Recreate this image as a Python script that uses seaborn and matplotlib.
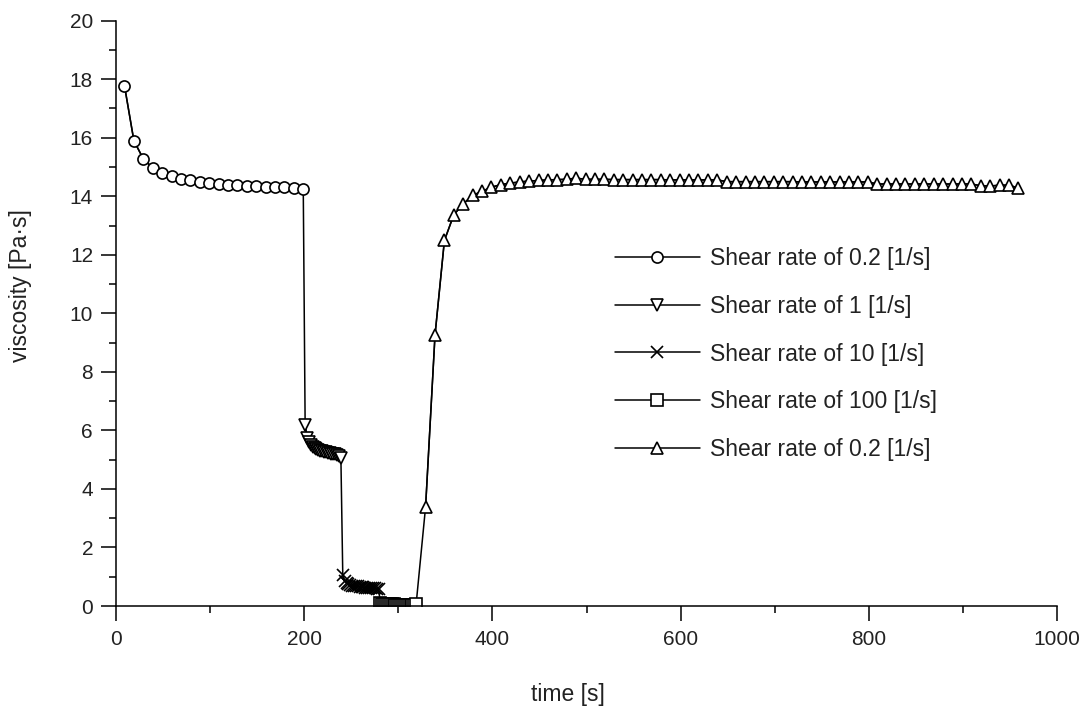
import numpy as np
import pandas as pd
import seaborn as sns
import matplotlib
matplotlib.use('Agg')
import matplotlib.pyplot as plt
from matplotlib.ticker import MultipleLocator

# valores

t_02a = [9, 19, 29, 39, 49, 59, 69, 79, 89, 99, 109, 119, 129, 139, 149,
         159, 169, 179, 189, 199]
v_02a = [17.78, 15.90, 15.28, 14.97, 14.79, 14.68, 14.60, 14.54, 14.48, 14.45,
         14.42, 14.39, 14.38, 14.36, 14.35, 14.33, 14.32, 14.31, 14.30, 14.26]

t_1 = [201, 203, 205, 207, 209, 211, 213, 215, 217, 219, 221, 223, 225, 227,
       229, 231, 233, 235, 237, 239]
v_1 = [6.18, 5.75, 5.60, 5.50, 5.45, 5.40, 5.35, 5.32, 5.30, 5.28, 5.26, 5.25,
       5.24, 5.22, 5.20, 5.20, 5.18, 5.15, 5.12, 5.05]

t_10 = [241, 243, 245, 247, 249, 251, 253, 255, 257, 259, 261, 263, 265, 267,
        269, 271, 273, 275, 277, 279]
v_10 = [1.05, 0.85, 0.78, 0.75, 0.72, 0.70, 0.69, 0.68, 0.67, 0.66, 0.65, 0.64,
        0.63, 0.62, 0.62, 0.61, 0.60, 0.60, 0.59, 0.58]

t_100 = [281, 283, 285, 287, 289, 291, 293, 295, 297, 299, 301, 303, 305, 307,
         309, 311, 313, 315, 317, 319]
v_100 = [0.10, 0.08, 0.07, 0.07, 0.06, 0.06, 0.06, 0.06, 0.05, 0.05, 0.05, 0.05,
         0.05, 0.05, 0.05, 0.05, 0.05, 0.05, 0.05, 0.08]

t_02b = [329, 339, 349, 359, 369, 379, 389, 399, 409, 419, 429, 439, 449, 459,
         469, 479, 489, 499, 509, 519, 529, 539, 549, 559, 569, 579, 589, 599,
         609, 619, 629, 639, 649, 659, 669, 679, 689, 699, 709, 719, 729, 739,
         749, 759, 769, 779, 789, 799, 809, 819, 829, 839, 849, 859, 869, 879,
         889, 899, 909, 919, 929, 939, 949, 959]
v_02b = [3.39, 9.25, 12.49, 13.37, 13.74, 14.03, 14.17, 14.31, 14.40, 14.45,
         14.49, 14.52, 14.54, 14.56, 14.57, 14.58, 14.62, 14.58,
         14.58, 14.58, 14.57, 14.57, 14.57, 14.57, 14.57, 14.57, 14.56, 14.56,
         14.56, 14.56, 14.56, 14.56,
         14.50, 14.50, 14.50, 14.50, 14.50, 14.50, 14.50, 14.50,
         14.49, 14.49, 14.49, 14.49, 14.49, 14.49, 14.49, 14.49,
         14.42, 14.42, 14.42, 14.42, 14.42, 14.42, 14.42, 14.42, 14.42, 14.42,
         14.42,
         14.36, 14.35, 14.38, 14.38, 14.28]

series = [
    (t_02a, v_02a, 'o', 8, 'Shear rate of 0.2 [1/s]'),
    (t_1, v_1, 'v', 9, 'Shear rate of 1 [1/s]'),
    (t_10, v_10, 'x', 9, 'Shear rate of 10 [1/s]'),
    (t_100, v_100, 's', 8.5, 'Shear rate of 100 [1/s]'),
    (t_02b, v_02b, '^', 9, 'Shear rate of 0.2 [1/s]'),
]

sns.set_style('ticks')
plt.rcParams['font.family'] = ['Liberation Sans', 'DejaVu Sans']

fig = plt.figure(figsize=(10.85, 7.06), dpi=100)
ax = fig.add_axes([116 / 1085, 1 - 606 / 706, 941 / 1085, 585.3 / 706])

# linha que liga todos os trechos
df_all = pd.DataFrame({'t': t_02a + t_1 + t_10 + t_100 + t_02b,
                       'v': v_02a + v_1 + v_10 + v_100 + v_02b})
sns.lineplot(data=df_all, x='t', y='v', estimator=None, color='black',
             linewidth=1.1, label='_connector', legend=False, ax=ax, zorder=1)

for t, v, m, ms, lab in series:
    df = pd.DataFrame({'t': t, 'v': v})
    sns.lineplot(data=df, x='t', y='v', estimator=None, color='black',
                 linewidth=1.1, marker=m, markersize=ms,
                 markerfacecolor='white', markeredgecolor='black',
                 markeredgewidth=1.2, label=lab, legend=False, ax=ax, zorder=2)

ax.set_xlim(0, 1000)
ax.set_ylim(0, 20)
ax.xaxis.set_major_locator(MultipleLocator(200))
ax.xaxis.set_minor_locator(MultipleLocator(100))
ax.yaxis.set_major_locator(MultipleLocator(2))
ax.yaxis.set_minor_locator(MultipleLocator(1))
ax.tick_params(which='major', length=10.5, width=1.1, color='black',
               labelsize=15, labelcolor='#222222')
ax.tick_params(axis='x', which='major', pad=7)
ax.tick_params(axis='y', which='major', pad=6)
ax.tick_params(which='minor', length=5, width=1.1, color='black')
for s in ['left', 'bottom']:
    ax.spines[s].set_linewidth(1.1)
    ax.spines[s].set_color('black')
sns.despine(ax=ax)

ax.set_xlabel('time [s]', fontsize=16.5, color='#222222')
ax.set_ylabel('viscosity [Pa·s]', fontsize=16.5, color='#222222')
ax.xaxis.set_label_coords((568 - 116) / 941, -(695 - 606) / 585.3)
ax.yaxis.set_label_coords(-(116 - 21) / 941, (606 - 286) / 585.3)
ax.xaxis.label.set_va('center')
ax.yaxis.label.set_va('center')

ax.legend(loc='center left', bbox_to_anchor=((615 - 116) / 941, (606 - 354) / 585.3),
          frameon=False, borderpad=0, fontsize=16.5, handlelength=3.7,
          handletextpad=0.45, labelspacing=1.07, numpoints=1,
          labelcolor='#222222', borderaxespad=0)

fig.savefig('out.png', dpi=100)
